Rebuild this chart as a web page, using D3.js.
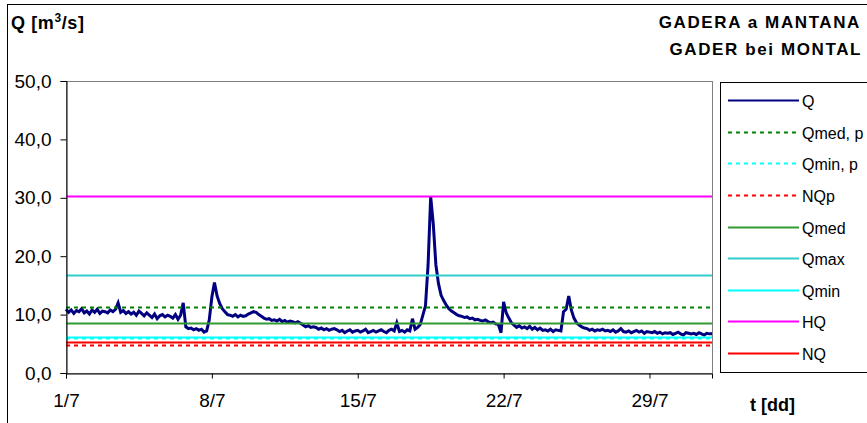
<!DOCTYPE html>
<html>
<head>
<meta charset="utf-8">
<script src="https://cdn.jsdelivr.net/npm/d3@7"></script>
<style>
  body { margin: 0; background: #fff; }
  text { font-family: "Liberation Sans", Arial, sans-serif; fill: #000; }
</style>
</head>
<body>
<div id="chart"></div>
<script>
// flow Q, one value every 3 hours from 1/7 00:00
const qStepDays = 0.125;
const qValues = [
  10.9, 10.4, 10.8, 10.2, 10.7, 10.5, 11.0, 10.3,
  10.6, 10.1, 10.8, 10.4, 10.9, 10.2, 10.6, 10.5,
  10.3, 10.8, 10.5, 10.9, 12.0, 10.4, 10.7, 10.2,
  10.5, 10.1, 10.4, 9.9, 10.6, 10.2, 9.8, 10.3,
  9.9, 9.5, 10.1, 9.3, 9.8, 10.0, 9.6, 9.9,
  9.7, 9.4, 10.0, 9.2, 9.9, 12.0, 7.9, 7.6,
  7.7, 7.4, 7.6, 7.3, 7.5, 7.0, 7.2, 9.1,
  13.0, 15.5, 13.2, 11.9, 11.0, 10.5, 10.0, 9.9,
  9.7, 10.0, 9.6, 9.9, 9.7, 9.8, 10.1, 10.3,
  10.5, 10.4, 10.0, 9.7, 9.4, 9.2, 9.3, 9.0,
  9.1, 8.9, 9.2, 8.8, 9.0, 8.7, 8.9, 8.8,
  8.6, 8.8, 8.5, 8.2, 7.9, 8.1, 7.8, 7.9,
  7.8, 7.5, 7.7, 7.4, 7.6, 7.3, 7.5, 7.6,
  7.4, 7.1, 7.3, 6.9, 7.2, 7.4, 7.0, 7.2,
  7.3, 7.0, 7.2, 7.5, 6.9, 7.1, 7.3, 7.0,
  7.2, 7.4, 7.1, 6.9, 7.3, 7.5, 7.2, 8.6,
  7.1, 7.3, 7.0, 7.4, 7.2, 9.3, 7.5, 7.8,
  8.3, 9.9, 11.5, 18.5, 30.2, 25.5, 18.5, 15.3,
  13.3, 12.4, 11.6, 11.0, 10.6, 10.3, 10.0, 9.8,
  9.7, 9.5, 9.6, 9.3, 9.4, 9.1, 9.2, 9.0,
  8.9, 9.1, 8.8, 8.6, 8.7, 8.4, 8.3, 6.9,
  12.2, 10.3, 9.4, 8.6, 8.2, 7.8, 8.1, 7.7,
  7.9, 7.6, 8.0, 7.5, 7.8, 7.4, 7.7, 7.3,
  7.4, 7.2, 7.5, 7.1, 7.4, 7.3, 7.2, 10.5,
  10.9, 13.2, 10.8, 9.4, 8.6, 8.2, 7.9, 7.7,
  7.6, 7.3, 7.5, 7.2, 7.4, 7.3, 7.5, 7.2,
  7.3, 7.1, 7.4, 7.0, 7.2, 7.6, 7.1, 7.0,
  7.2, 6.9, 7.1, 7.3, 7.0, 7.2, 6.8, 7.1,
  7.0, 6.9, 7.1, 6.8, 7.0, 6.7, 6.9, 6.8,
  6.9, 6.6, 6.8, 7.0, 6.7, 6.5, 6.9, 6.8,
  6.7, 6.8, 6.6, 6.9, 6.7, 6.5, 6.8, 6.7, 6.7
];

// reference levels
const refNames  = ['Qmed, p', 'Qmin, p', 'NQp', 'Qmed', 'Qmax', 'Qmin', 'HQ', 'NQ'];
const refValues = [11.3, 6.0, 4.8, 8.6, 16.8, 6.2, 30.3, 5.3];
const refColors = ['#008000', '#00ffff', '#ff0000', '#339933', '#33cccc', '#00ffff', '#ff00ff', '#ff0000'];
const refDashed = [true, true, true, false, false, false, false, false];

// axes
const yTicks = [0, 10, 20, 30, 40, 50];
const xTickDays = [0, 7, 14, 21, 28];
const xTickLabels = ['1/7', '8/7', '15/7', '22/7', '29/7'];

const W = 867, H = 423;
const plot = { left: 66, right: 712, top: 81, bottom: 373 };

const svg = d3.select('#chart').append('svg')
  .attr('width', W).attr('height', H);

// outer frame
svg.append('rect')
  .attr('x', 7.5).attr('y', 4.5)
  .attr('width', W).attr('height', H)
  .attr('fill', '#fff').attr('stroke', '#000');

const x = d3.scaleLinear().domain([0, 31]).range([plot.left, plot.right]);
const y = d3.scaleLinear().domain([0, 50]).range([plot.bottom, plot.top]);

// plot area border (top/right grey)
svg.append('rect')
  .attr('x', plot.left + 0.5).attr('y', plot.top + 0.5)
  .attr('width', plot.right - plot.left).attr('height', plot.bottom - plot.top)
  .attr('fill', '#fff').attr('stroke', '#808080');

// Q line
const qData = qValues.map((v, i) => [i * qStepDays, v]);
svg.append('path')
  .datum(qData)
  .attr('fill', 'none')
  .attr('stroke', '#000080')
  .attr('stroke-width', 3)
  .attr('stroke-linejoin', 'miter')
  .attr('d', d3.line().x(d => x(d[0])).y(d => y(d[1])));

// reference lines
refValues.forEach((v, i) => {
  svg.append('line')
    .attr('x1', x(0)).attr('x2', x(31))
    .attr('y1', Math.round(y(v)) + 0.5).attr('y2', Math.round(y(v)) + 0.5)
    .attr('stroke', refColors[i])
    .attr('stroke-width', 2)
    .attr('stroke-dasharray', refDashed[i] ? '4,4' : null);
});

// axes
const yAxis = svg.append('g')
  .attr('transform', `translate(${plot.left + 0.5},0)`)
  .call(d3.axisLeft(y).tickValues(yTicks).tickSize(6).tickPadding(9)
    .tickFormat(d => d3.format('.1f')(d).replace('.', ',')));
const xAxis = svg.append('g')
  .attr('transform', `translate(0,${plot.bottom + 0.5})`)
  .call(d3.axisBottom(x).tickValues(xTickDays).tickSize(5).tickPadding(15)
    .tickFormat((d, i) => xTickLabels[i]));
[yAxis, xAxis].forEach(g => {
  g.select('.domain').attr('stroke', '#000');
  g.selectAll('.tick line').attr('stroke', '#000');
  g.selectAll('.tick text')
    .attr('font-family', '"Liberation Sans", Arial, sans-serif')
    .attr('font-size', 19).attr('fill', '#000');
});

// titles
svg.append('text').attr('x', 11).attr('y', 29)
  .attr('font-size', 18).attr('font-weight', 'bold').attr('letter-spacing', 0.6)
  .html('Q [m<tspan font-size="12" dy="-7">3</tspan><tspan dy="7">/s]</tspan>');
svg.append('text').attr('x', 861).attr('y', 28)
  .attr('text-anchor', 'end').attr('font-size', 17).attr('font-weight', 'bold')
  .attr('letter-spacing', 1.6)
  .text('GADERA a MANTANA');
svg.append('text').attr('x', 862).attr('y', 55)
  .attr('text-anchor', 'end').attr('font-size', 17).attr('font-weight', 'bold')
  .attr('letter-spacing', 1.6)
  .text('GADER bei MONTAL');
svg.append('text').attr('x', 750).attr('y', 411)
  .attr('font-size', 18).attr('font-weight', 'bold')
  .text('t [dd]');

// legend
const legend = svg.append('g');
legend.append('rect')
  .attr('x', 720.5).attr('y', 82.5)
  .attr('width', 200).attr('height', 290)
  .attr('fill', '#fff').attr('stroke', '#000');
const legNames  = ['Q'].concat(refNames);
const legColors = ['#000080'].concat(refColors);
const legDashed = [false].concat(refDashed);
const legY = d3.scaleLinear().domain([0, 8]).range([100, 353]);
legNames.forEach((n, i) => {
  const yy = Math.round(legY(i)) + 0.5;
  legend.append('line')
    .attr('x1', 728).attr('x2', 799)
    .attr('y1', yy).attr('y2', yy)
    .attr('stroke', legColors[i]).attr('stroke-width', 2)
    .attr('stroke-dasharray', legDashed[i] ? '4,4' : null);
  legend.append('text')
    .attr('x', 802).attr('y', yy + 6)
    .attr('font-size', 16)
    .text(n);
});
</script>
</body>
</html>
